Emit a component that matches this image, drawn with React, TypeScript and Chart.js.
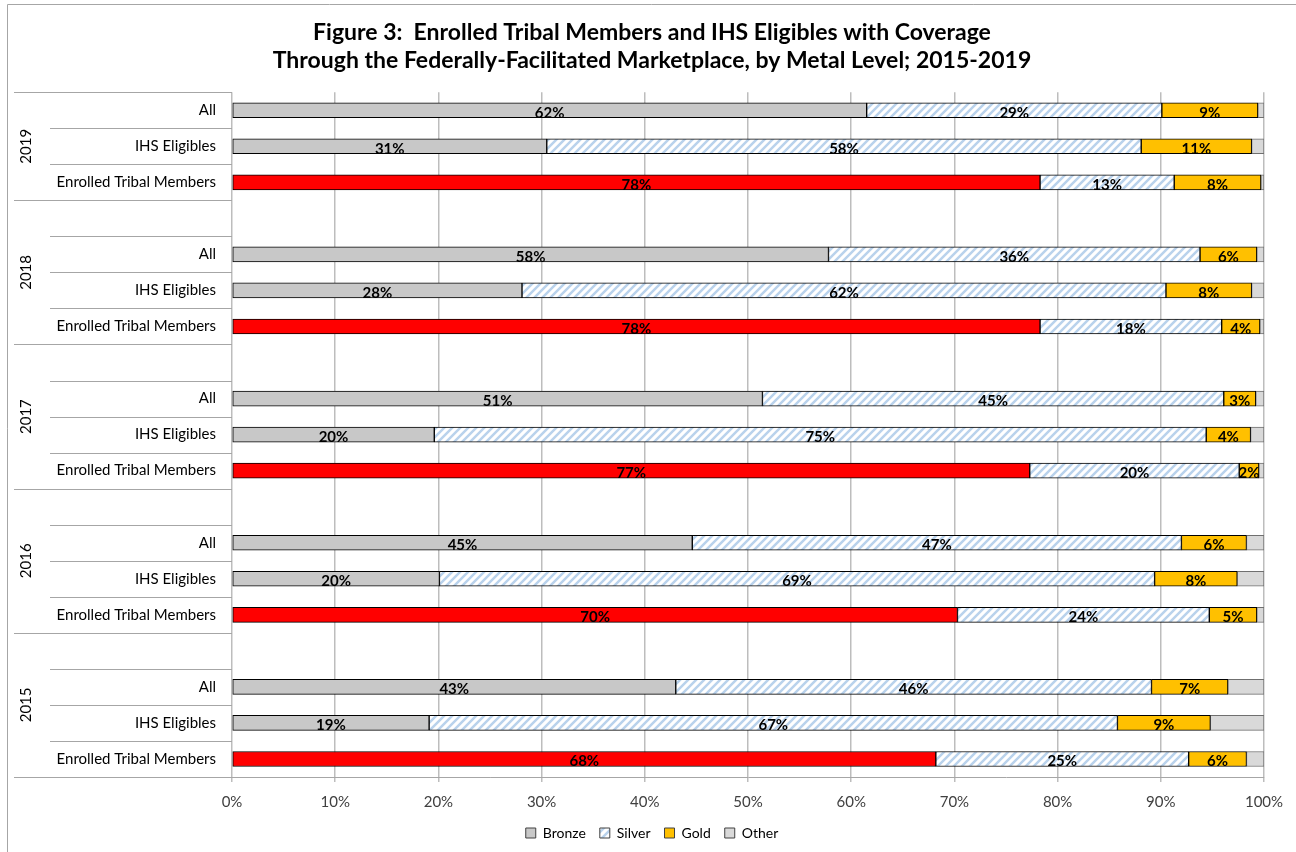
import React, { useEffect, useRef } from "react";
import { Chart, registerables } from "chart.js";

Chart.register(...registerables);

const titleLines = [
  "Figure 3:  Enrolled Tribal Members and IHS Eligibles with Coverage",
  "Through the Federally-Facilitated Marketplace, by Metal Level; 2015-2019",
];

// One row per bar, top to bottom; the blank rows separate the year groups.
const rowYears = [
  "2019", "2019", "2019",
  "2018", "2018", "2018", "2018",
  "2017", "2017", "2017", "2017",
  "2016", "2016", "2016", "2016",
  "2015", "2015", "2015", "2015",
];
const rowLabels = [
  "All", "IHS Eligibles", "Enrolled Tribal Members",
  "", "All", "IHS Eligibles", "Enrolled Tribal Members",
  "", "All", "IHS Eligibles", "Enrolled Tribal Members",
  "", "All", "IHS Eligibles", "Enrolled Tribal Members",
  "", "All", "IHS Eligibles", "Enrolled Tribal Members",
];

// Share of enrollees by metal level (%)
const bronze = [61.5, 30.5, 78.3, null, 57.8, 28.1, 78.3, null, 51.4, 19.6, 77.3, null, 44.6, 20.1, 70.3, null, 43.0, 19.1, 68.2];
const silver = [28.6, 57.6, 13.0, null, 36.0, 62.4, 17.6, null, 44.7, 74.8, 20.3, null, 47.4, 69.3, 24.4, null, 46.1, 66.7, 24.5];
const gold = [9.3, 10.7, 8.4, null, 5.5, 8.3, 3.7, null, 3.1, 4.3, 1.9, null, 6.3, 8.0, 4.6, null, 7.4, 9.0, 5.6];
const other = [0.6, 1.2, 0.3, null, 0.7, 1.2, 0.4, null, 0.8, 1.3, 0.5, null, 1.7, 2.6, 0.7, null, 3.5, 5.2, 1.7];

const xTicks = [0, 10, 20, 30, 40, 50, 60, 70, 80, 90, 100];

const FONT = "Lato, 'Open Sans', sans-serif";
const ENROLLED = "Enrolled Tribal Members";
const BRONZE_GRAY = "#c8c8c8";
const ENROLLED_RED = "#ff0000";
const GOLD = "#ffc000";
const OTHER = "#d9d9d9";
const LINE_GRAY = "#a6a6a6";

const PAD_LEFT = 40;
const PLOT_LEFT = 232;

function makeHatch(ctx: CanvasRenderingContext2D): CanvasPattern | string {
  const c = document.createElement("canvas");
  c.width = 8;
  c.height = 8;
  const g = c.getContext("2d");
  if (!g) return "#dce9f7";
  g.fillStyle = "#ffffff";
  g.fillRect(0, 0, 8, 8);
  g.strokeStyle = "#b9d2ec";
  g.lineWidth = 2.5;
  g.beginPath();
  g.moveTo(-2, 10);
  g.lineTo(10, -2);
  g.moveTo(-2, 2);
  g.lineTo(2, -2);
  g.moveTo(6, 10);
  g.lineTo(10, 6);
  g.stroke();
  return ctx.createPattern(c, "repeat") || "#dce9f7";
}

// Frame, multi-level category labels and separators.
const framePlugin = {
  id: "frame",
  beforeDraw(chart: any) {
    const { ctx, width, height } = chart;
    ctx.save();
    ctx.strokeStyle = LINE_GRAY;
    ctx.lineWidth = 1;
    ctx.beginPath();
    ctx.moveTo(7.5, height);
    ctx.lineTo(7.5, 4.5);
    ctx.lineTo(width, 4.5);
    ctx.stroke();
    ctx.restore();
  },
  afterDraw(chart: any) {
    const { ctx, chartArea } = chart;
    const y = chart.scales.y;
    const n = rowLabels.length;
    const rowH = (y.getPixelForValue(n - 1) - y.getPixelForValue(0)) / (n - 1);
    const top = y.getPixelForValue(0) - rowH / 2;
    ctx.save();
    ctx.strokeStyle = LINE_GRAY;
    ctx.lineWidth = 1;
    for (let k = 0; k <= n; k++) {
      const yy = Math.round(top + k * rowH) + 0.5;
      const isGroup = k === 0 || k === n || rowYears[k] !== rowYears[k - 1];
      ctx.beginPath();
      ctx.moveTo(isGroup ? 14 : 50, yy);
      ctx.lineTo(chartArea.left, yy);
      ctx.stroke();
    }
    // year labels, rotated, centered on their group
    ctx.fillStyle = "#000";
    ctx.font = `15px ${FONT}`;
    ctx.textAlign = "center";
    ctx.textBaseline = "middle";
    let start = 0;
    for (let k = 1; k <= n; k++) {
      if (k === n || rowYears[k] !== rowYears[start]) {
        const cy = top + ((start + k) / 2) * rowH;
        ctx.save();
        ctx.translate(26, cy);
        ctx.rotate(-Math.PI / 2);
        ctx.fillText(rowYears[start], 0, 0);
        ctx.restore();
        start = k;
      }
    }
    ctx.restore();
  },
};

// Percentage labels centered on each bronze, silver and gold segment.
const valueLabelPlugin = {
  id: "valueLabels",
  afterDatasetsDraw(chart: any) {
    const { ctx } = chart;
    ctx.save();
    ctx.fillStyle = "#000";
    ctx.font = `bold 15px ${FONT}`;
    ctx.textAlign = "center";
    ctx.textBaseline = "middle";
    chart.data.datasets.forEach((ds: any, di: number) => {
      if (!ds.showValue) return;
      const meta = chart.getDatasetMeta(di);
      meta.data.forEach((el: any, i: number) => {
        const v = ds.data[i];
        if (v == null) return;
        const cx = (el.x + el.base) / 2;
        ctx.fillText(`${Math.round(v)}%`, cx, el.y + 2.5);
      });
    });
    ctx.restore();
  },
};

export default function App() {
  const canvasRef = useRef<HTMLCanvasElement | null>(null);

  useEffect(() => {
    const canvas = canvasRef.current;
    if (!canvas) return;
    const ctx = canvas.getContext("2d");
    if (!ctx) return;
    Chart.defaults.font.family = FONT;
    const hatch = makeHatch(ctx);

    const bronzeColor = (c: any) =>
      c.dataIndex != null && rowLabels[c.dataIndex] === ENROLLED ? ENROLLED_RED : BRONZE_GRAY;

    const legendFill = [BRONZE_GRAY, hatch, GOLD, OTHER];
    const legendStroke = ["#404040", "#404040", "#404040", "#404040"];

    const chart = new Chart(ctx, {
      type: "bar",
      data: {
        labels: rowLabels,
        datasets: [
          { label: "Bronze", data: bronze, backgroundColor: bronzeColor, borderColor: "#000", showValue: true } as any,
          { label: "Silver", data: silver, backgroundColor: hatch, borderColor: "#000", showValue: true } as any,
          { label: "Gold", data: gold, backgroundColor: GOLD, borderColor: "#000", showValue: true } as any,
          { label: "Other", data: other, backgroundColor: OTHER, borderColor: "#6f6f6f", showValue: false } as any,
        ],
      },
      options: {
        indexAxis: "y",
        animation: false,
        responsive: true,
        maintainAspectRatio: false,
        layout: { padding: { left: PAD_LEFT, right: 32, top: 0, bottom: 2 } },
        datasets: {
          bar: {
            borderWidth: 1,
            borderSkipped: false,
            barThickness: 15,
          },
        },
        scales: {
          x: {
            stacked: true,
            min: 0,
            max: 100,
            afterBuildTicks: (scale: any) => {
              scale.ticks = xTicks.map((v) => ({ value: v }));
            },
            afterFit: (scale: any) => {
              scale.height = 35;
            },
            ticks: {
              callback: (v: any) => `${v}%`,
              font: { size: 15, family: FONT },
              color: "#404040",
              padding: 11,
            },
            grid: { color: "#bdbdbd", lineWidth: 1.5, tickLength: 5, drawTicks: true },
            border: { display: true, color: LINE_GRAY, width: 1 },
          },
          y: {
            stacked: true,
            offset: true,
            afterFit: (scale: any) => {
              scale.width = PLOT_LEFT - PAD_LEFT;
            },
            ticks: {
              autoSkip: false,
              font: { size: 15, family: FONT },
              color: "#000",
              padding: 16,
            },
            grid: { display: false, drawTicks: false },
            border: { display: false },
          },
        },
        plugins: {
          title: {
            display: true,
            text: titleLines,
            color: "#000",
            font: { size: 23, weight: "bold", family: FONT, lineHeight: 1.2 },
            padding: { top: 19, bottom: 18 },
          },
          legend: {
            position: "bottom",
            labels: {
              color: "#000",
              font: { size: 14, family: FONT },
              boxWidth: 10,
              boxHeight: 10,
              padding: 14,
              generateLabels: (ch: any) =>
                ch.data.datasets.map((ds: any, i: number) => ({
                  text: ds.label,
                  fillStyle: legendFill[i],
                  strokeStyle: legendStroke[i],
                  lineWidth: 1,
                  datasetIndex: i,
                  hidden: false,
                })),
            },
          },
          tooltip: { enabled: false },
        },
      },
      plugins: [framePlugin, valueLabelPlugin],
    } as any);

    return () => chart.destroy();
  }, []);

  return (
    <div style={{ position: "absolute", left: 0, top: 0, width: 1296, height: 852, background: "#fff" }}>
      <canvas ref={canvasRef} />
    </div>
  );
}
